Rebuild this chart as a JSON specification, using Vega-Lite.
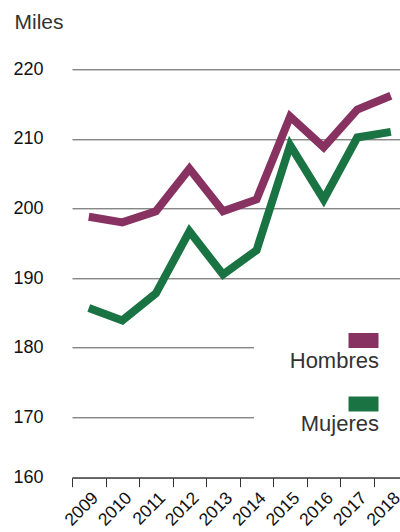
{
  "$schema": "https://vega.github.io/schema/vega-lite/v6.json",
  "width": 328,
  "height": 408.4,
  "autosize": {"type": "none"},
  "padding": {"left": 72, "top": 69.3, "right": 0, "bottom": 54.3},
  "background": "white",
  "config": {"view": {"stroke": null}, "font": "Liberation Sans"},
  "data": {"values": [
    {"year": "2009", "serie": "Hombres", "value": 198.8},
    {"year": "2010", "serie": "Hombres", "value": 198.0},
    {"year": "2011", "serie": "Hombres", "value": 199.6},
    {"year": "2012", "serie": "Hombres", "value": 205.7},
    {"year": "2013", "serie": "Hombres", "value": 199.6},
    {"year": "2014", "serie": "Hombres", "value": 201.3},
    {"year": "2015", "serie": "Hombres", "value": 213.2},
    {"year": "2016", "serie": "Hombres", "value": 208.8},
    {"year": "2017", "serie": "Hombres", "value": 214.2},
    {"year": "2018", "serie": "Hombres", "value": 216.2},
    {"year": "2009", "serie": "Mujeres", "value": 185.7},
    {"year": "2010", "serie": "Mujeres", "value": 183.9},
    {"year": "2011", "serie": "Mujeres", "value": 187.8},
    {"year": "2012", "serie": "Mujeres", "value": 196.7},
    {"year": "2013", "serie": "Mujeres", "value": 190.5},
    {"year": "2014", "serie": "Mujeres", "value": 194.0},
    {"year": "2015", "serie": "Mujeres", "value": 209.1},
    {"year": "2016", "serie": "Mujeres", "value": 201.3},
    {"year": "2017", "serie": "Mujeres", "value": 210.2},
    {"year": "2018", "serie": "Mujeres", "value": 211.0}
  ]},
  "mark": {"type": "line", "strokeWidth": 8, "strokeCap": "butt", "strokeJoin": "miter"},
  "encoding": {
    "x": {
      "field": "year", "type": "ordinal",
      "scale": {"type": "band", "range": [0, 335.6], "paddingInner": 0, "paddingOuter": 0},
      "axis": {"title": null, "labelAngle": -45, "labelAlign": "right", "labelBaseline": "top", "labelFontSize": 17.5, "labelColor": "#111", "tickSize": 9, "tickBand": "extent", "tickColor": "#333", "domainColor": "#333", "grid": false, "labelPadding": 2}
    },
    "y": {
      "field": "value", "type": "quantitative",
      "scale": {"domain": [161.3, 220], "nice": false, "zero": false},
      "axis": {"title": "Miles", "titleAngle": 0, "titleAlign": "left", "titleX": -58, "titleY": -41, "titleBaseline": "alphabetic", "titleFontSize": 21, "titleFontWeight": "normal", "titleColor": "#333",
        "values": [161.3, 170, 180, 190, 200, 210, 220], "labelExpr": "datum.value < 165 ? '160' : datum.label",
        "labelFontSize": 18, "labelPadding": 29, "ticks": false, "domain": false, "grid": true, "gridColor": "#555", "labelColor": "#111"}
    },
    "color": {
      "field": "serie", "type": "nominal",
      "scale": {"domain": ["Hombres", "Mujeres"], "range": ["#883261", "#1a7342"]},
      "legend": {"orient": "none", "legendX": 182, "legendY": 272.7, "title": null, "fillColor": "white", "padding": 6,
        "symbolType": "M15.2,-4H21.2", "symbolSize": 100, "symbolStrokeWidth": 15, "labelFontSize": 22, "labelColor": "#333", "labelAlign": "right", "rowPadding": 1.5, "labelOffset": 94}
    }
  }
}
